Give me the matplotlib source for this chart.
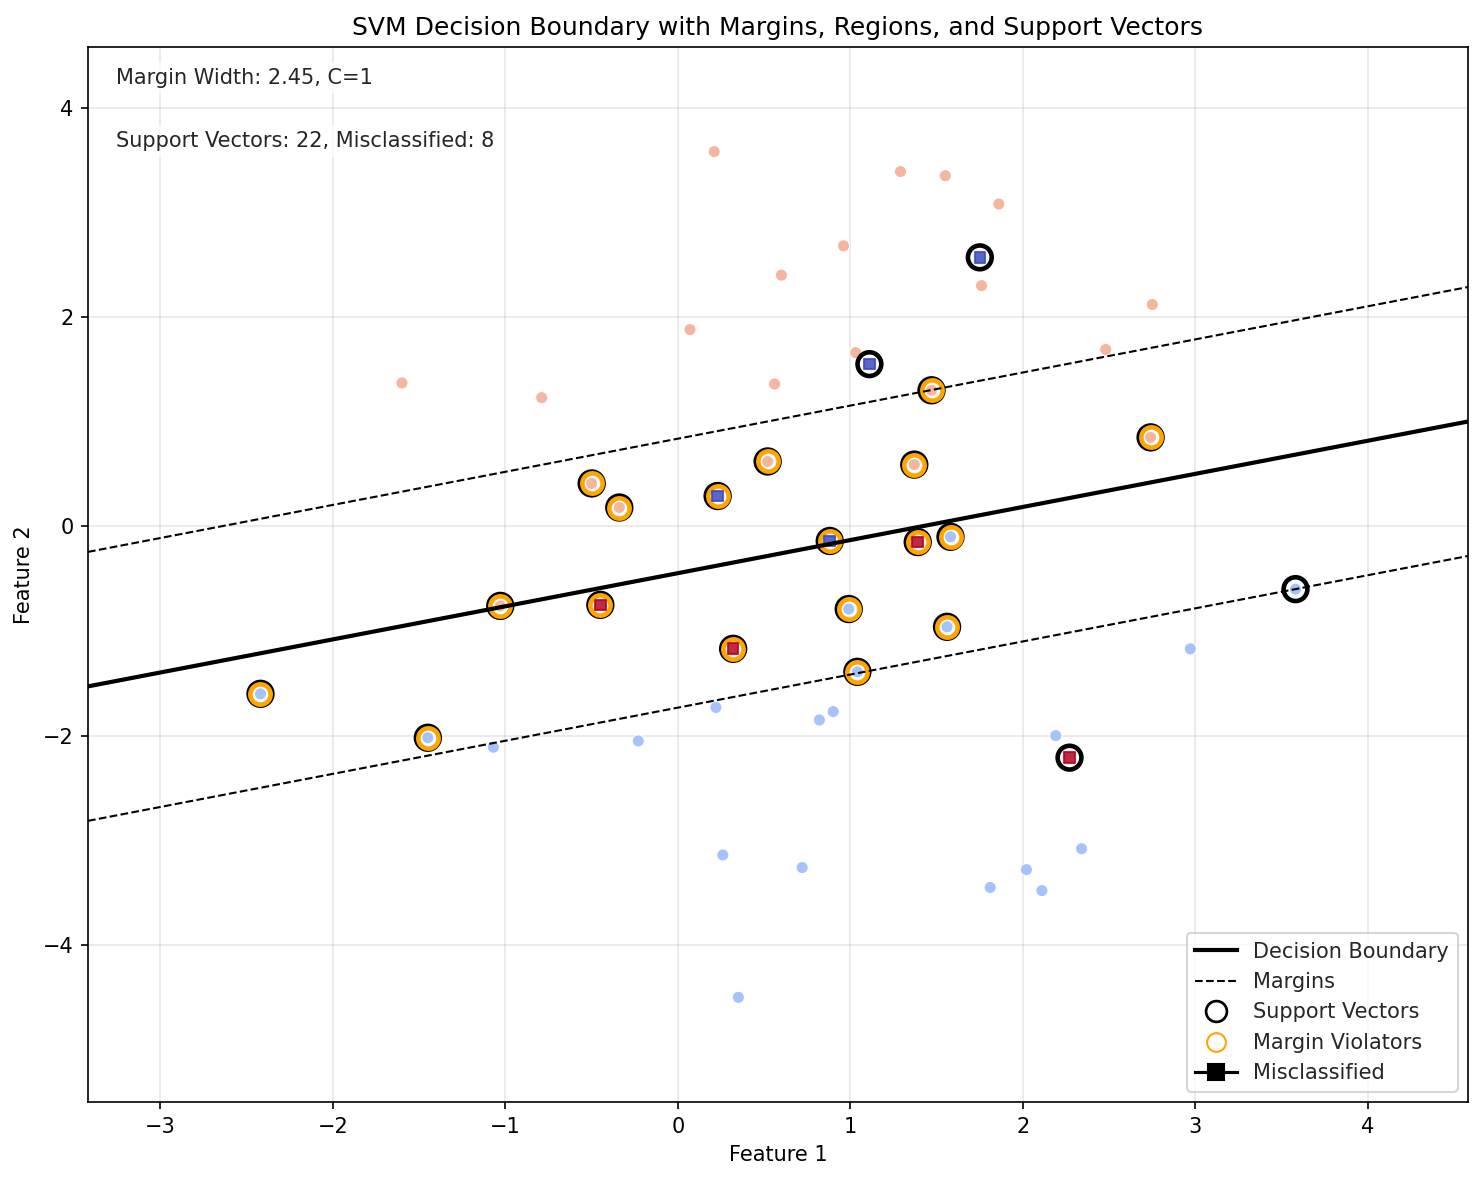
import numpy as np
import matplotlib
matplotlib.use('Agg')
import matplotlib.pyplot as plt
from matplotlib.lines import Line2D

# point coordinates (label 1 = red class, 0 = blue class)
feat1 = [0.21, 1.29, 1.55, 1.86, 0.96, 0.60, 1.76, 2.75, 0.07, 1.03, 2.48, -1.60, -0.79, 0.56,
         2.97, 0.22, 0.82, 0.90, -0.23, -1.07, 2.19, 0.26, 0.72, 1.81, 2.02, 2.11, 2.34, 0.35,
         -2.42, -1.45, -1.03, -0.50, -0.34, -0.45, 0.23, 0.52, 0.32, 0.88, 0.99, 1.04, 1.37,
         1.39, 1.47, 1.58, 1.56, 2.74,
         1.11, 1.75, 3.58, 2.27]
feat2 = [3.58, 3.39, 3.35, 3.08, 2.68, 2.40, 2.30, 2.12, 1.88, 1.66, 1.69, 1.37, 1.23, 1.36,
         -1.17, -1.73, -1.85, -1.77, -2.05, -2.11, -2.00, -3.14, -3.26, -3.45, -3.28, -3.48, -3.08, -4.50,
         -1.60, -2.02, -0.76, 0.41, 0.18, -0.75, 0.29, 0.62, -1.17, -0.14, -0.79, -1.39, 0.59,
         -0.15, 1.30, -0.10, -0.96, 0.85,
         1.55, 2.57, -0.60, -2.21]
labels = [1] * 14 + [0] * 14 + \
         [0, 0, 1, 1, 1, 1, 0, 1, 1, 0, 0, 0, 1, 1, 1, 0, 0, 1] + \
         [0, 0, 0, 1]

support_idx = list(range(28, 50))
violator_idx = list(range(28, 46))
misclassified_idx = [33, 34, 36, 37, 41, 46, 47, 49]

# linear SVM parameters
w = np.array([-0.2462, 0.7783])
b = 0.348
C = 1
margin_width = 2 / np.linalg.norm(w)

X = np.column_stack([feat1, feat2])
y = np.array(labels)

light = {0: '#a5c3fa', 1: '#f4b69f'}
dark = {0: '#3b4cc0', 1: '#b40426'}

fig, ax = plt.subplots(figsize=(1484 / 150, 1181 / 150), dpi=150)
fig.subplots_adjust(left=88 / 1484, right=1468 / 1484, top=1 - 47 / 1181, bottom=1 - 1102 / 1181)

x_min, x_max = X[:, 0].min() - 1, X[:, 0].max() + 1
y_min, y_max = X[:, 1].min() - 1, X[:, 1].max() + 1

correct = np.array([i for i in range(len(y)) if i not in misclassified_idx])
ax.scatter(X[correct, 0], X[correct, 1], c=[light[v] for v in y[correct]],
           s=34, edgecolors='white', linewidths=0.5, zorder=2)

ax.scatter(X[support_idx, 0], X[support_idx, 1], s=130, facecolors='none',
           edgecolors='k', linewidths=2.2, zorder=3)
ax.scatter(X[violator_idx, 0], X[violator_idx, 1], s=95, facecolors='white',
           edgecolors='orange', linewidths=2.2, zorder=4)

viol_ok = [i for i in violator_idx if i not in misclassified_idx]
ax.scatter(X[viol_ok, 0], X[viol_ok, 1], c=[light[v] for v in y[viol_ok]],
           s=34, edgecolors='white', linewidths=0.5, zorder=5)

ax.scatter(X[misclassified_idx, 0], X[misclassified_idx, 1], marker='s', s=26,
           c=[dark[v] for v in y[misclassified_idx]], alpha=0.85, zorder=6)

xx = np.array([x_min, x_max])
boundary = -(w[0] * xx + b) / w[1]
upper = (1 - w[0] * xx - b) / w[1]
lower = (-1 - w[0] * xx - b) / w[1]
ax.plot(xx, boundary, 'k-', lw=2, zorder=7)
ax.plot(xx, upper, 'k--', lw=1, zorder=7)
ax.plot(xx, lower, 'k--', lw=1, zorder=7)

ax.set_xlim(x_min, x_max)
ax.set_ylim(y_min, y_max)
ax.grid(True, alpha=0.3)
ax.set_axisbelow(True)

ax.set_title('SVM Decision Boundary with Margins, Regions, and Support Vectors')
ax.set_xlabel('Feature 1')
ax.set_ylabel('Feature 2')

box = dict(boxstyle='round', facecolor='white', edgecolor='none', alpha=0.7)
ax.text(0.02, 0.98, f'Margin Width: {margin_width:.2f}, C={C}', transform=ax.transAxes,
        va='top', color='#262626', bbox=box, zorder=8)
ax.text(0.02, 0.92, f'Support Vectors: {len(support_idx)}, Misclassified: {len(misclassified_idx)}',
        transform=ax.transAxes, va='top', color='#262626', bbox=box, zorder=8)

handles = [
    Line2D([0], [0], color='k', lw=2, label='Decision Boundary'),
    Line2D([0], [0], color='k', lw=1, ls='--', label='Margins'),
    Line2D([0], [0], ls='none', marker='o', markerfacecolor='none', markeredgecolor='k',
           markersize=10, markeredgewidth=1.3, label='Support Vectors'),
    Line2D([0], [0], ls='none', marker='o', markerfacecolor='none', markeredgecolor='orange',
           markersize=9, markeredgewidth=1.0, label='Margin Violators'),
    Line2D([0], [0], color='k', marker='s', markersize=8, label='Misclassified'),
]
leg = ax.legend(handles=handles, loc='lower right', labelcolor='#262626')
leg.set_zorder(10)

fig.savefig('out.png', dpi=150)
